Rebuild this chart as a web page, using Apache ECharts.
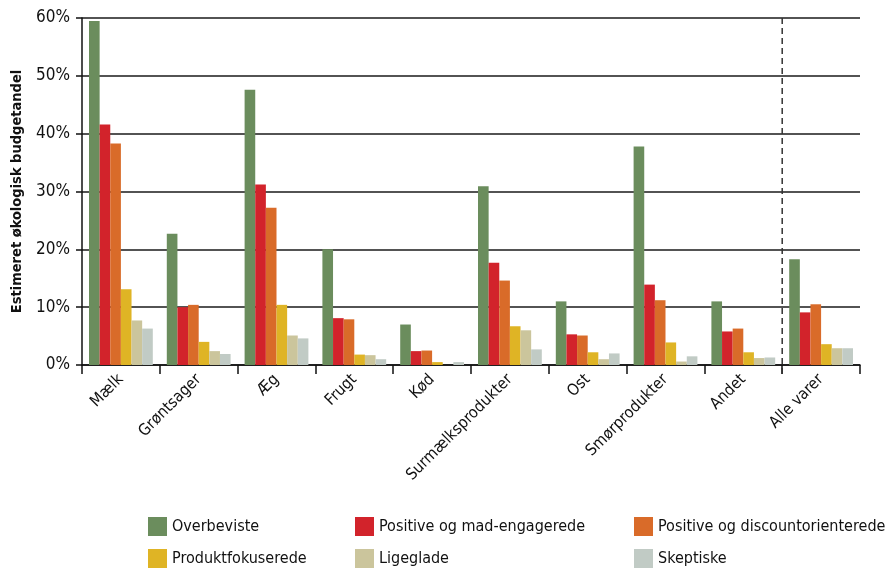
<!DOCTYPE html>
<html lang="da">
<head>
<meta charset="utf-8">
<title>Estimeret økologisk budgetandel</title>
<script src="https://cdn.jsdelivr.net/npm/echarts@6/dist/echarts.min.js"></script>
<style>
  html, body { margin: 0; padding: 0; background: #fff; }
  #chart { width: 896px; height: 568px; }
</style>
</head>
<body>
<div id="chart"></div>
<script>
// Varegrupper
const categories = ['Mælk', 'Grøntsager', 'Æg', 'Frugt', 'Kød', 'Surmælksprodukter', 'Ost', 'Smørprodukter', 'Andet', 'Alle varer'];

// Økologisk budgetandel (%) pr. segment
const overbeviste      = [59.5, 22.7, 47.6, 20.0, 7.0, 30.9, 11.0, 37.8, 11.0, 18.3];
const madEngagerede    = [41.6, 10.0, 31.2, 8.1, 2.4, 17.7, 5.3, 13.9, 5.8, 9.1];
const discount         = [38.3, 10.4, 27.2, 7.9, 2.5, 14.6, 5.1, 11.2, 6.3, 10.5];
const produktfokus     = [13.1, 4.0, 10.4, 1.8, 0.5, 6.7, 2.2, 3.9, 2.2, 3.6];
const ligeglade        = [7.7, 2.4, 5.1, 1.7, 0, 6.0, 1.0, 0.6, 1.2, 2.9];
const skeptiske        = [6.3, 1.9, 4.6, 1.0, 0.5, 2.7, 2.0, 1.5, 1.3, 2.9];

const seriesNames = ['Overbeviste', 'Positive og mad-engagerede', 'Positive og discountorienterede', 'Produktfokuserede', 'Ligeglade', 'Skeptiske'];
const seriesValues = [overbeviste, madEngagerede, discount, produktfokus, ligeglade, skeptiske];
const colors = ['#6b8d5d', '#d2232b', '#d96b29', '#dfb425', '#cbc59c', '#c1cbc5'];

// Legend grid: three columns, two rows
const legendColumns = [148, 355, 634];
const legendRows = [517, 549];

const FONT = '"DejaVu Sans Condensed", "Liberation Sans", sans-serif';

const chart = echarts.init(document.getElementById('chart'), null, { renderer: 'canvas' });

const legendText = { fontFamily: FONT, fontSize: 16, color: '#111' };
const legends = seriesNames.map(function (name, i) {
  return {
    orient: 'horizontal',
    left: legendColumns[i % 3],
    top: legendRows[Math.floor(i / 3)],
    padding: 0,
    itemWidth: 19, itemHeight: 19, itemGap: 0,
    icon: 'rect', textStyle: legendText, data: [name],
    selectedMode: false
  };
});

chart.setOption({
  animation: false,
  color: colors,
  textStyle: { fontFamily: FONT },
  grid: { left: 82, right: 36, top: 18, bottom: 203, containLabel: false },
  legend: legends,
  xAxis: {
    type: 'category',
    data: categories,
    boundaryGap: true,
    axisLine: { lineStyle: { color: '#111', width: 1.5 } },
    axisTick: { show: true, interval: 0, length: 9, lineStyle: { color: '#111', width: 1.5 } },
    axisLabel: { interval: 0, rotate: 45, margin: 12, fontFamily: FONT, fontSize: 16, color: '#111' },
    splitLine: { show: false }
  },
  yAxis: {
    type: 'value',
    min: 0, max: 60, interval: 10,
    name: 'Estimeret økologisk budgetandel',
    nameLocation: 'middle',
    nameGap: 53,
    nameTextStyle: { fontFamily: FONT, fontSize: 14.5, fontWeight: 'bold', color: '#111' },
    axisLine: { show: true, lineStyle: { color: '#111', width: 1.5 } },
    axisTick: { show: true, length: 6, lineStyle: { color: '#111', width: 1.5 } },
    axisLabel: { formatter: '{value}%', margin: 12, fontFamily: FONT, fontSize: 17, color: '#111' },
    splitLine: { show: true, lineStyle: { color: '#1a1a1a', width: 1.5 } }
  },
  series: seriesNames.map(function (name, i) {
    return {
      name: name,
      type: 'bar',
      data: seriesValues[i],
      barGap: '0%',
      barCategoryGap: '18%',
      itemStyle: { color: colors[i] }
    };
  })
});

// Dashed divider between the single groups and the total ("Alle varer"),
// placed halfway between the two neighbouring category centres.
const xAndet = chart.convertToPixel({ xAxisIndex: 0 }, 'Andet');
const xAlle = chart.convertToPixel({ xAxisIndex: 0 }, 'Alle varer');
const yTop = chart.convertToPixel({ yAxisIndex: 0 }, 60);
const yBase = chart.convertToPixel({ yAxisIndex: 0 }, 0);
const xDiv = (xAndet + xAlle) / 2;
chart.setOption({
  graphic: [{
    type: 'line',
    shape: { x1: xDiv, y1: yTop, x2: xDiv, y2: yBase + 9 },
    style: { stroke: '#333', lineWidth: 1.5, lineDash: [6, 4] },
    z: 10
  }]
});
</script>
</body>
</html>
